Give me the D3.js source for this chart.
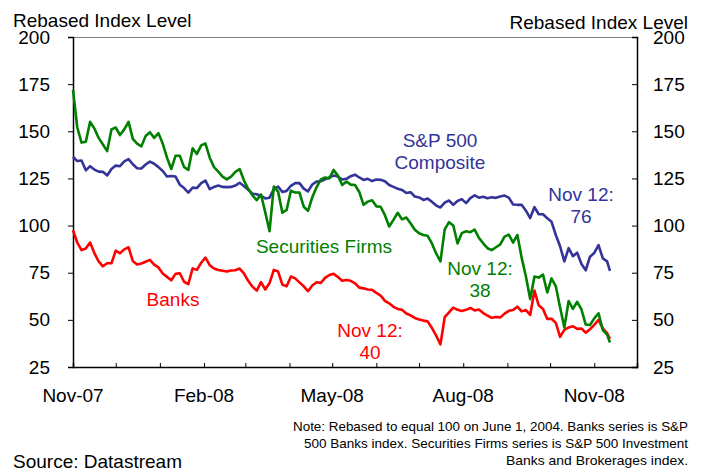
<!DOCTYPE html>
<html>
<head>
<meta charset="utf-8">
<script src="https://cdn.jsdelivr.net/npm/d3@7"></script>
<style>
  html, body { margin: 0; padding: 0; background: #fff; }
  svg { display: block; }
  text { font-family: "Liberation Sans", Arial, Helvetica, sans-serif; }
</style>
</head>
<body>
<svg id="chart" width="707" height="474"></svg>
<script>
// Sample dates (every third calendar day, last one Nov 12, 2008)
const dates = [
  "2007-11-01","2007-11-04","2007-11-07","2007-11-10","2007-11-13","2007-11-16","2007-11-19","2007-11-22","2007-11-25","2007-11-28",
  "2007-12-01","2007-12-04","2007-12-07","2007-12-10","2007-12-13","2007-12-16","2007-12-19","2007-12-22","2007-12-25","2007-12-28","2007-12-31",
  "2008-01-03","2008-01-06","2008-01-09","2008-01-12","2008-01-15","2008-01-18","2008-01-21","2008-01-24","2008-01-27","2008-01-30",
  "2008-02-02","2008-02-05","2008-02-08","2008-02-11","2008-02-14","2008-02-17","2008-02-20","2008-02-23","2008-02-26","2008-02-29",
  "2008-03-03","2008-03-06","2008-03-09","2008-03-12","2008-03-15","2008-03-18","2008-03-21","2008-03-24","2008-03-27","2008-03-30",
  "2008-04-02","2008-04-05","2008-04-08","2008-04-11","2008-04-14","2008-04-17","2008-04-20","2008-04-23","2008-04-26","2008-04-29",
  "2008-05-02","2008-05-05","2008-05-08","2008-05-11","2008-05-14","2008-05-17","2008-05-20","2008-05-23","2008-05-26","2008-05-29",
  "2008-06-01","2008-06-04","2008-06-07","2008-06-10","2008-06-13","2008-06-16","2008-06-19","2008-06-22","2008-06-25","2008-06-28",
  "2008-07-01","2008-07-04","2008-07-07","2008-07-10","2008-07-13","2008-07-16","2008-07-19","2008-07-22","2008-07-25","2008-07-28","2008-07-31",
  "2008-08-03","2008-08-06","2008-08-09","2008-08-12","2008-08-15","2008-08-18","2008-08-21","2008-08-24","2008-08-27","2008-08-30",
  "2008-09-02","2008-09-05","2008-09-08","2008-09-11","2008-09-14","2008-09-17","2008-09-20","2008-09-23","2008-09-26","2008-09-29",
  "2008-10-02","2008-10-05","2008-10-08","2008-10-11","2008-10-14","2008-10-17","2008-10-20","2008-10-23","2008-10-26","2008-10-29",
  "2008-11-01","2008-11-04","2008-11-07","2008-11-10","2008-11-12"
];

// S&P 500 Composite
const sp500 = [
  136.5,134.2,134.5,129.3,131.5,129.7,128.6,128.5,126.6,130,
  131.8,131.5,134,135.2,132.5,130.4,130.3,132.4,133.9,132.8,131,
  128.9,126,126.3,126,121.7,119.9,117.5,120.1,119.9,122.5,
  123.8,119.3,120.5,121.2,120.5,120.4,120.5,121.2,122.7,121,
  119,116.9,116.6,115.7,114.4,114.8,119.4,120.7,117.8,118.4,
  121.1,122.5,122.5,119.6,118.1,121.8,123.3,123.5,124.5,125.6,
  126.5,126,124.4,124.8,126.2,127,125.5,124.2,124.8,123.6,
  124.4,124.3,123.5,121.5,120.5,119.5,118.9,117.3,117.7,115.4,
  114.9,113.6,114.3,112.6,110.6,109.6,112.2,113.3,111,113,114,
  111.9,114.6,116,114.8,115.3,114.5,115,114.7,115.4,115.9,
  114.8,111.2,111,111,107.9,104,109.8,106,106,103.9,
  102,95,89,81,88,83.8,85.6,79.6,76.3,83.5,
  85.5,89.6,82.6,81,76
];

// S&P 500 Investment Banks and Brokerages
const securities = [
  172,152,144,144.5,155,151.5,146.5,143,139.5,151,
  152,148,151,155,146,143.5,142,147.5,149.5,146.5,149,
  143.5,136,130,137,137,131,129.5,141,138,142.5,
  143.5,136,131,128.6,126,124.5,126,128.5,130,124,
  119.5,116,113.5,116.5,107,97,120.7,118,106.8,108.3,
  118.5,117.5,117.5,110,107.8,115,120.3,124.5,125.5,125,
  129.5,126.5,121.5,123.3,121.7,121.5,117.8,111,112.7,113.4,
  110.2,110,105.5,99.5,103,106.8,103.3,104.3,101.2,97.8,
  95.9,95,94.6,90.5,85.2,81,98,101.8,100,90.5,96,
  97,96.5,97.8,93.5,90.6,88,87,88.5,90,94.1,
  95.2,91,95,83,73,61,73,72.4,74,64.5,
  72,67.8,56.5,46,60,55.8,59.6,55.5,47.5,47.3,
  50.8,53.5,44.6,42.2,38
];

// S&P 500 Banks
const banks = [
  97.5,91,87,87.8,91,85.4,81,78.4,80,80,
  86.7,85.3,87.4,88.5,81.2,79.4,79.9,80.8,81.8,79.3,77.8,
  74.6,72.8,71,74.4,74.7,70.2,69,77.3,76.5,80.3,
  83,79,77.2,76.4,76,75.6,76.2,76.3,77.2,74.7,
  70.7,67.6,65.5,70,66.1,69.5,76.5,75.6,68.7,67.8,
  73,72,69.9,67.8,65.2,68.2,69.9,69.6,72.3,73.8,
  74.4,72.7,70.7,71.1,70.7,69.4,67.1,66.7,66.1,65.9,
  64.3,62.9,60.1,58.8,56.9,55.8,55.3,53.4,52.4,51,
  50.2,49.6,49.2,45.7,41.6,37,51.5,54,56.5,55.3,54.7,
  55.3,56.3,55,55.5,53.6,52.3,51.1,51.5,51.3,53.3,
  54.8,55.2,57,54.5,55.2,52.6,65.5,57.7,55.8,50.5,
  50.6,48.4,41,44.7,46,46.6,45.2,45.4,43.2,45,
  47.3,50,45.5,43,40
];

const yTicks = [25, 50, 75, 100, 125, 150, 175, 200];
const xLabelDates = ["2007-11-01","2008-02-01","2008-05-01","2008-08-01","2008-11-01"];
const xDomain = ["2007-11-01","2008-12-01"];

const seriesColors = { sp500: "#333399", securities: "#008000", banks: "#ff0000" };

const parse = d3.utcParse("%Y-%m-%d");
const fmtMonth = d3.utcFormat("%b-%y");

const svg = d3.select("#chart");
const W = 707, H = 474;
const plot = { left: 73, right: 637, top: 37, bottom: 367 };

const x = d3.scaleUtc()
  .domain(xDomain.map(parse))
  .range([plot.left, plot.right]);
const y = d3.scaleLinear()
  .domain([25, 200])
  .range([plot.bottom, plot.top]);

const FONT = 19;

// top frame line
svg.append("line")
  .attr("x1", plot.left).attr("x2", plot.right)
  .attr("y1", plot.top + 0.5).attr("y2", plot.top + 0.5)
  .attr("stroke", "#808080").attr("stroke-width", 1);

// left axis
const yLeft = d3.axisLeft(y).tickValues(yTicks).tickSize(5).tickFormat(d3.format("d"));
const gL = svg.append("g").attr("transform", `translate(${plot.left},0)`).call(yLeft);
gL.select(".domain").attr("stroke", "#000").attr("stroke-width", 1.5);
gL.selectAll(".tick line").attr("stroke", "#000");
gL.selectAll(".tick text")
  .attr("x", -23).attr("font-size", FONT).attr("fill", "#000")
  .attr("font-family", "Liberation Sans, Arial, sans-serif");

// right axis (ticks pointing into the plot)
const yRight = d3.axisRight(y).tickValues(yTicks).tickSize(-5).tickFormat(d3.format("d"));
const gR = svg.append("g").attr("transform", `translate(${plot.right},0)`).call(yRight);
gR.select(".domain").attr("stroke", "#000").attr("stroke-width", 1.5);
gR.selectAll(".tick line").attr("stroke", "#000");
gR.selectAll(".tick text")
  .attr("x", 16).attr("font-size", FONT).attr("fill", "#000")
  .attr("font-family", "Liberation Sans, Arial, sans-serif");

// bottom axis: monthly ticks pointing up, labels every three months
const monthTicks = d3.utcMonth.range(parse("2007-12-01"), parse("2008-12-01"));
const xAxis = d3.axisBottom(x).tickValues(monthTicks).tickSize(-4).tickFormat("");
const gX = svg.append("g").attr("transform", `translate(0,${plot.bottom})`).call(xAxis);
gX.select(".domain").attr("stroke", "#000").attr("stroke-width", 1.5);
gX.selectAll(".tick line").attr("stroke", "#000");

svg.append("g").selectAll("text")
  .data(xLabelDates.map(parse))
  .join("text")
  .attr("x", d => x(d))
  .attr("y", 402)
  .attr("text-anchor", "middle")
  .attr("font-size", FONT)
  .attr("fill", "#000")
  .text(d => fmtMonth(d));

// axis titles
svg.append("text").attr("x", 13).attr("y", 27).attr("font-size", FONT).attr("fill", "#000")
  .text("Rebased Index Level");
svg.append("text").attr("x", 688).attr("y", 29).attr("text-anchor", "end").attr("font-size", FONT).attr("fill", "#000")
  .text("Rebased Index Level");

// series lines
const dts = dates.map(parse);
const line = d3.line().x((d, i) => x(dts[i])).y(d => y(d));
const drawSeries = (vals, color) =>
  svg.append("path")
    .datum(vals)
    .attr("d", line)
    .attr("fill", "none")
    .attr("stroke", color)
    .attr("stroke-width", 2.6)
    .attr("stroke-linejoin", "round");

drawSeries(banks, seriesColors.banks);
drawSeries(sp500, seriesColors.sp500);
drawSeries(securities, seriesColors.securities);

// series annotations
const last = dates.length - 1;
const annotations = [
  { lines: ["S&P 500", "Composite"], x: 440, y: 147, color: seriesColors.sp500 },
  { lines: [fmtDay(dts[last]) + ":", String(Math.round(sp500[last]))], x: 581, y: 201, color: seriesColors.sp500 },
  { lines: ["Securities Firms"], x: 324, y: 253, color: seriesColors.securities },
  { lines: [fmtDay(dts[last]) + ":", String(Math.round(securities[last]))], x: 480, y: 275, color: seriesColors.securities },
  { lines: ["Banks"], x: 173, y: 306, color: seriesColors.banks },
  { lines: [fmtDay(dts[last]) + ":", String(Math.round(banks[last]))], x: 370, y: 337, color: seriesColors.banks }
];
function fmtDay(d) { return d3.utcFormat("%b ")(d) + d.getUTCDate(); }

annotations.forEach(a => {
  const t = svg.append("text")
    .attr("x", a.x).attr("y", a.y)
    .attr("text-anchor", "middle")
    .attr("font-size", FONT)
    .attr("fill", a.color);
  a.lines.forEach((s, i) => {
    t.append("tspan").attr("x", a.x).attr("dy", i === 0 ? 0 : 21.5).text(s);
  });
});

// footnote
const noteLines = [
  { text: "Note: Rebased to equal 100 on June 1, 2004. Banks series is S&P", width: 395 },
  { text: "500 Banks index. Securities Firms series is S&P 500 Investment", width: 384 },
  { text: "Banks and Brokerages index.", width: 182 }
];
noteLines.forEach((n, i) => {
  svg.append("text")
    .attr("x", 688).attr("y", 431 + i * 17)
    .attr("text-anchor", "end")
    .attr("font-size", 13.5)
    .attr("fill", "#000")
    .attr("textLength", n.width)
    .attr("lengthAdjust", "spacingAndGlyphs")
    .text(n.text);
});

svg.append("text").attr("x", 13).attr("y", 468).attr("font-size", FONT).attr("fill", "#000")
  .text("Source: Datastream");
</script>
</body>
</html>
